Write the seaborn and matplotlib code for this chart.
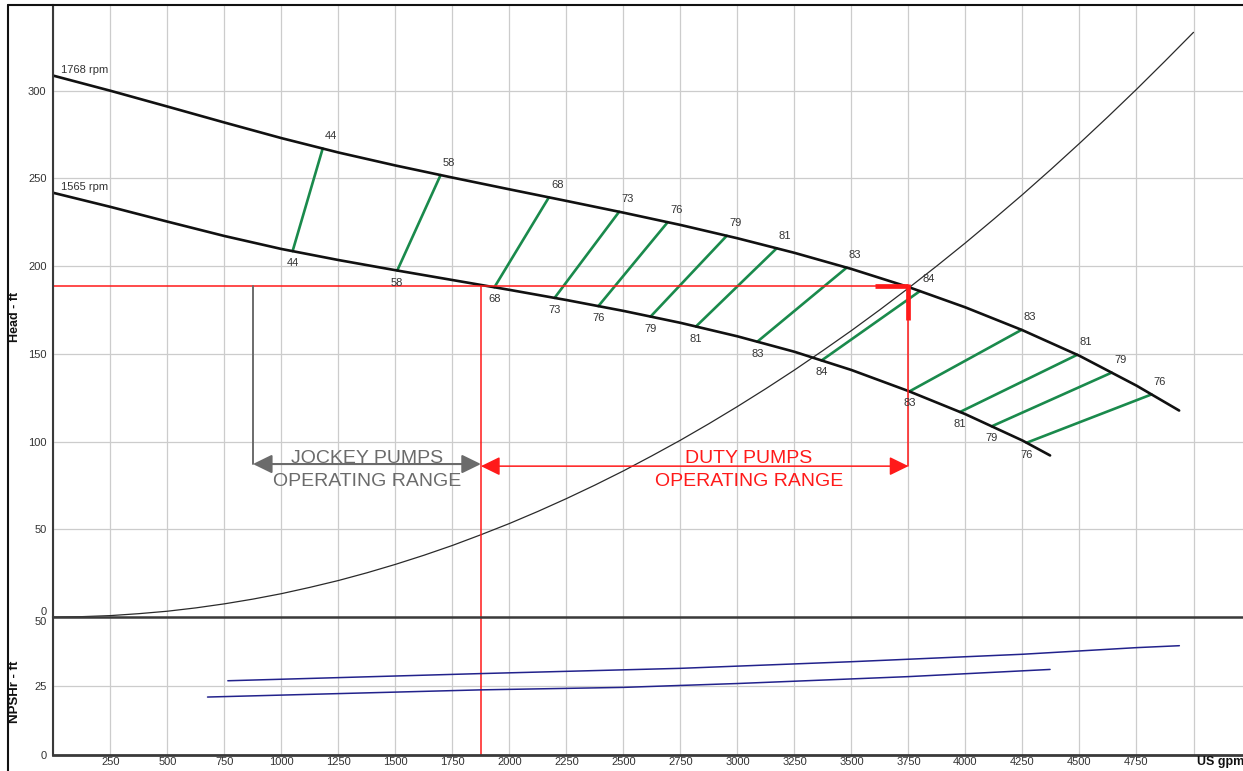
import numpy as np
import pandas as pd
import matplotlib
matplotlib.use("Agg")
import matplotlib.pyplot as plt
from matplotlib.lines import Line2D
import seaborn as sns

# ---- Head-capacity curves at the two speeds (US gpm, ft) ----
hq_1768_gpm = [0, 250, 500, 750, 1000, 1250, 1500, 1750, 2000, 2250, 2500, 2750,
               3000, 3250, 3500, 3750, 4000, 4250, 4500, 4750, 4937]
hq_1768_head = [308.6, 300.0, 291.0, 281.9, 273.0, 264.8, 257.4, 250.5, 243.8, 237.2,
                230.5, 223.5, 215.9, 207.6, 198.4, 188.1, 176.5, 163.5, 148.9, 131.9,
                117.7]
hq_1565_gpm = [0, 250, 500, 750, 1000, 1250, 1500, 1750, 2000, 2250, 2500, 2750,
               3000, 3250, 3500, 3750, 4000, 4250, 4371]
hq_1565_head = [241.8, 233.8, 225.4, 217.2, 209.8, 203.5, 197.7, 192.1, 186.5, 180.7,
                174.5, 167.7, 160.0, 151.2, 140.8, 128.8, 115.6, 100.6, 92.1]

# ---- Iso-efficiency lines (efficiency %, flow where it meets each speed curve) ----
eff_pct = [44, 58, 68, 73, 76, 79, 81, 83, 84, 83, 81, 79, 76]
eff_gpm_1565 = [1049, 1508, 1934, 2198, 2390, 2619, 2818, 3087, 3369, 3754, 3976, 4115, 4268]
eff_gpm_1768 = [1181, 1698, 2173, 2481, 2694, 2953, 3172, 3479, 3800, 4246, 4490, 4641, 4816]

# ---- System curve ----
sys_gpm = [0, 125, 250, 375, 500, 625, 750, 875, 1000, 1125, 1250, 1375, 1500, 1625,
           1750, 1875, 2000, 2125, 2250, 2375, 2500, 2625, 2750, 2875, 3000, 3125,
           3250, 3375, 3500, 3625, 3750, 3875, 4000, 4125, 4250, 4375, 4500, 4625,
           4750, 4875, 5000]
sys_head = [0.0, 0.2, 0.8, 1.9, 3.3, 5.2, 7.5, 10.2, 13.3, 16.9, 20.8, 25.2, 30.0, 35.2,
            40.8, 46.9, 53.3, 60.2, 67.5, 75.2, 83.3, 91.9, 100.8, 110.2, 120.0, 130.2,
            140.8, 151.9, 163.3, 175.2, 187.5, 200.2, 213.3, 226.9, 240.8, 255.2, 270.0,
            285.2, 300.8, 316.9, 333.3]

# ---- NPSH required ----
npsh_1768_gpm = [765, 1875, 2750, 3500, 4250, 4750, 4938]
npsh_1768_ft = [26.9, 29.5, 31.4, 33.8, 36.5, 38.9, 39.6]
npsh_1565_gpm = [676, 1875, 2500, 3000, 3750, 4371]
npsh_1565_ft = [21.0, 23.6, 24.5, 25.9, 28.4, 31.0]

# ---- Operating ranges ----
design_head = 188.8
jockey_range = [875, 1875]
duty_range = [1875, 3750]
range_labels = ["JOCKEY PUMPS", "DUTY PUMPS"]

x_ticks = list(range(0, 5001, 250))
head_ticks = [0, 50, 100, 150, 200, 250, 300]
npsh_ticks = [0, 25, 50]

# ------------------------------------------------------------------
sns.set_theme(style="white")
plt.rcParams["font.family"] = ["Liberation Sans", "DejaVu Sans"]

W_PX, H_PX = 1243, 771
fig = plt.figure(figsize=(W_PX / 100, H_PX / 100), dpi=100)

left = 53.4 / W_PX
ax = fig.add_axes([left, (H_PX - 617) / H_PX, 1 - left, (617 - 5) / H_PX])
axb = fig.add_axes([left, (H_PX - 755) / H_PX, 1 - left, (755 - 617) / H_PX], sharex=ax)

GRID = "#cccccc"
SPINE = "#3a3a3a"
GREEN = "#1a8a4c"
RED = "#ff1a1a"
GRAY = "#6b6b6b"
NAVY = "#22228c"

for a in (ax, axb):
    a.set_axisbelow(True)
    a.grid(True, color=GRID, lw=0.9)
    a.tick_params(length=0, labelsize=8, colors="#333333")
    for s in a.spines.values():
        s.set_color(SPINE)
        s.set_linewidth(1.5)
    a.spines["right"].set_visible(False)

ax.spines["top"].set_visible(False)
ax.spines["bottom"].set_visible(False)
axb.spines["bottom"].set_linewidth(2.0)
axb.spines["top"].set_linewidth(1.8)

ax.set_xlim(0, (W_PX - 53.4) / 0.22802)
ax.set_ylim(0, (616.7 - 5) / 1.7533)
axb.set_ylim(0, 50)

ax.set_xticks(x_ticks)
axb.set_xticks(x_ticks)
axb.set_xticklabels(["" if (t == 0 or t == 5000) else str(t) for t in x_ticks])
ax.tick_params(axis="x", labelbottom=False)
axb.tick_params(axis="x", pad=1.5)
ax.set_yticks(head_ticks)
axb.set_yticks(npsh_ticks)
ax.tick_params(axis="y", pad=5)
axb.tick_params(axis="y", pad=5)
ax.get_yticklabels()[0].set_va("bottom")
axb.get_yticklabels()[-1].set_va("top")

ax.set_ylabel("Head - ft", fontsize=9, fontweight="bold", color="#111111", va="center")
ax.yaxis.set_label_coords((15 - 53.4) / (W_PX - 53.4), 0.49)
axb.set_ylabel("NPSHr - ft", fontsize=9.5, fontweight="bold", color="#111111", va="center")
axb.yaxis.set_label_coords((15 - 53.4) / (W_PX - 53.4), 0.457)
ax.set_xlabel("")
axb.set_xlabel("")

# ---- System curve ----
sns.lineplot(x=sys_gpm, y=sys_head, ax=ax, color="#2a2a2a", lw=0.9, sort=False)

# ---- Iso-efficiency segments ----
seg_rows = []
for i, (g_lo, g_hi) in enumerate(zip(eff_gpm_1565, eff_gpm_1768)):
    h_lo = np.interp(g_lo, hq_1565_gpm, hq_1565_head)
    h_hi = np.interp(g_hi, hq_1768_gpm, hq_1768_head)
    seg_rows.append({"seg": i, "gpm": g_lo, "head": h_lo})
    seg_rows.append({"seg": i, "gpm": g_hi, "head": h_hi})
seg_df = pd.DataFrame(seg_rows)
sns.lineplot(data=seg_df, x="gpm", y="head", units="seg", estimator=None,
             ax=ax, color=GREEN, lw=1.9, sort=False)

# ---- Speed curves ----
for q, h in ((hq_1768_gpm, hq_1768_head), (hq_1565_gpm, hq_1565_head)):
    sns.lineplot(x=q, y=h, ax=ax, color="#111111", lw=1.9, sort=False)
    ax.lines[-1].set_solid_joinstyle("round")
ax.text(33, 311.8, "1768 rpm", fontsize=8, color="#333333", ha="left", va="center")
ax.text(33, 245.3, "1565 rpm", fontsize=8, color="#333333", ha="left", va="center")

for e, g_lo, g_hi in zip(eff_pct, eff_gpm_1565, eff_gpm_1768):
    h_lo = np.interp(g_lo, hq_1565_gpm, hq_1565_head)
    h_hi = np.interp(g_hi, hq_1768_gpm, hq_1768_head)
    ax.annotate(str(e), (g_hi, h_hi), xytext=(8.5, 12.5), textcoords="offset pixels",
                fontsize=8, color="#333333", ha="center", va="center")
    ax.annotate(str(e), (g_lo, h_lo), xytext=(0, -12), textcoords="offset pixels",
                fontsize=8, color="#333333", ha="center", va="center")

# ---- Operating point construction ----
duty_gpm = duty_range[1]
ax.plot([0, duty_gpm], [design_head, design_head], color=RED, lw=1.1)
ax.plot([duty_range[0]] * 2, [0, design_head], color=RED, lw=1.1)
axb.axvline(duty_range[0], color=RED, lw=1.1)
ax.plot([duty_gpm, duty_gpm], [86.0, design_head], color=RED, lw=1.1)
ax.plot([3603, duty_gpm], [design_head, design_head], color=RED, lw=3.4,
        solid_capstyle="butt")
ax.plot([duty_gpm, duty_gpm], [169.2, design_head + 1.2], color=RED, lw=3.4,
        solid_capstyle="butt")
ax.plot([jockey_range[0]] * 2, [87.2, design_head], color=GRAY, lw=1.4)

arrow_style = "<|-|>,head_length=0.45,head_width=0.22"
ax.annotate("", xy=(jockey_range[1], 87.2), xytext=(jockey_range[0], 87.2),
            arrowprops=dict(arrowstyle=arrow_style, color=GRAY, lw=1.5,
                            mutation_scale=26, shrinkA=0, shrinkB=0))
ax.annotate("", xy=(duty_range[1], 86.0), xytext=(duty_range[0], 86.0),
            arrowprops=dict(arrowstyle=arrow_style, color=RED, lw=1.1,
                            mutation_scale=26, shrinkA=0, shrinkB=0))

jx = (jockey_range[0] + jockey_range[1]) / 2
ax.text(jx, 87.7, range_labels[0], fontsize=14, color=GRAY, ha="center", va="baseline")
ax.text(jx, 74.5, "OPERATING RANGE", fontsize=14, color=GRAY, ha="center", va="baseline")
ax.text(3050, 87.7, range_labels[1], fontsize=14, color=RED, ha="center", va="baseline")
ax.text(3050, 74.5, "OPERATING RANGE", fontsize=14, color=RED, ha="center", va="baseline")

# ---- NPSHr curves ----
sns.lineplot(x=npsh_1768_gpm, y=npsh_1768_ft, ax=axb, color=NAVY, lw=1.1, sort=False)
sns.lineplot(x=npsh_1565_gpm, y=npsh_1565_ft, ax=axb, color=NAVY, lw=1.1, sort=False)

fig.text(1197 / W_PX, (H_PX - 762.5) / H_PX, "US gpm", fontsize=9, fontweight="bold",
         color="#111111", ha="left", va="center")

# Outer frame (left and top edges)
fig.add_artist(Line2D([8 / W_PX, 8 / W_PX], [0, (H_PX - 5) / H_PX],
                      transform=fig.transFigure, color="#111111", lw=1.5))
fig.add_artist(Line2D([8 / W_PX, 1], [(H_PX - 5) / H_PX] * 2,
                      transform=fig.transFigure, color="#111111", lw=1.5))

fig.savefig("out.png", dpi=100)
